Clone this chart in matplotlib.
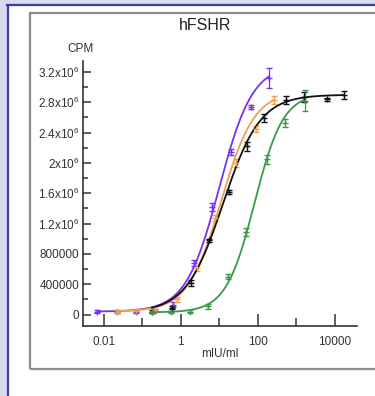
import matplotlib
matplotlib.use('Agg')
import matplotlib.pyplot as plt
import numpy as np
from matplotlib.patches import Rectangle
from matplotlib.lines import Line2D
from matplotlib.ticker import NullFormatter

plt.rcParams['font.family'] = ['Liberation Sans', 'DejaVu Sans']
plt.rcParams['mathtext.default'] = 'regular'

# mIU/ml, CPM (mean) and error
purple_x = [0.0069, 0.022, 0.068, 0.21, 0.63, 2.2, 6.6, 20, 66, 195]
purple_y = [40000, 35000, 40000, 50000, 130000, 680000, 1420000, 2150000, 2740000, 3120000]
purple_err = [20000, 20000, 15000, 20000, 30000, 40000, 50000, 40000, 30000, 130000]

orange_x = [0.022, 0.068, 0.21, 0.8, 2.6, 8, 27, 89, 265]
orange_y = [40000, 45000, 55000, 200000, 620000, 1280000, 2000000, 2450000, 2830000]
orange_err = [15000, 15000, 20000, 30000, 40000, 40000, 50000, 40000, 50000]

black_x = [0.18, 0.6, 1.8, 5.5, 17.8, 54, 145, 540, 1600, 6500, 17400]
black_y = [40000, 90000, 420000, 980000, 1620000, 2220000, 2590000, 2830000, 2870000, 2840000, 2900000]
black_err = [15000, 20000, 40000, 20000, 30000, 60000, 50000, 50000, 60000, 20000, 50000]

green_x = [0.178, 0.55, 1.74, 5.25, 17, 51, 170, 500, 1660]
green_y = [30000, 30000, 40000, 110000, 500000, 1090000, 2050000, 2530000, 2820000]
green_err = [10000, 15000, 20000, 30000, 30000, 50000, 60000, 50000, 140000]

# 4PL fit parameters: bottom, top, logEC50, hill
purple_fit = [40000, 3300000, 1.0, 1.0]
orange_fit = [40000, 2950000, 1.05, 1.0]
black_fit = [30000, 2900000, 1.1, 0.9]
green_fit = [30000, 2920000, 1.92, 1.17]

series = [
    (purple_x, purple_y, purple_err, purple_fit, '#7a30f0'),
    (orange_x, orange_y, orange_err, orange_fit, '#f0a050'),
    (black_x, black_y, black_err, black_fit, '#111111'),
    (green_x, green_y, green_err, green_fit, '#3a9a48'),
]

yticks = [0, 400000, 800000, 1200000, 1600000, 2000000, 2400000, 2800000, 3200000]
ylabels = ['0', '400000', '800000', '1.2x10$^{6}$', '1.6x10$^{6}$', '2x10$^{6}$',
           '2.4x10$^{6}$', '2.8x10$^{6}$', '3.2x10$^{6}$']
xticks = [0.01, 1, 100, 10000]
xlabels = ['0.01', '1', '100', '10000']

W, H = 375, 396
fig = plt.figure(figsize=(W / 100, H / 100), dpi=100)
fig.patch.set_facecolor('#d8d8f0')

# slide frame
fig.add_artist(Rectangle((8 / W, 0), 1, 1 - 6 / H, transform=fig.transFigure,
                         facecolor='white', edgecolor='none', zorder=-3))
fig.add_artist(Line2D([7 / W, 1], [1 - 5 / H] * 2, transform=fig.transFigure,
                      color='#3c3ca8', lw=1.6, zorder=-2))
fig.add_artist(Line2D([7.5 / W] * 2, [0, 1 - 5 / H], transform=fig.transFigure,
                      color='#3c3ca8', lw=1.6, zorder=-2))
fig.add_artist(Rectangle((30 / W, 1 - 369 / H), 1, (369 - 12.5) / H, transform=fig.transFigure,
                         fill=False, edgecolor='#8c8c8c', lw=1.6, zorder=-1))

ax = fig.add_axes([83 / W, 1 - 326 / H, (357 - 83) / W, (326 - 61) / H])
ax.patch.set_alpha(0)

for xs, ys, es, (b, t, ec, h), c in series:
    xx = np.logspace(np.log10(xs[0]), np.log10(xs[-1]), 300)
    ax.plot(xx, b + (t - b) / (1 + 10 ** ((ec - np.log10(xx)) * h)), color=c, lw=1.3)
    ax.errorbar(xs, ys, yerr=es, fmt='+', color=c, ms=5, mew=1.0,
                elinewidth=0.9, capsize=2.5, capthick=0.9)

ax.set_xscale('log')
ax.set_xlim(0.0029, 38000)
ax.set_ylim(-150000, 3345000)
ax.set_xticks(xticks)
ax.set_xticklabels(xlabels)
ax.set_xticks([0.1, 10, 1000], minor=True)
ax.xaxis.set_minor_formatter(NullFormatter())
ax.set_yticks(yticks)
ax.set_yticklabels(ylabels)
ax.set_yticks([200000 + 400000 * i for i in range(8)], minor=True)

for s in ['top', 'right']:
    ax.spines[s].set_visible(False)
for s in ['left', 'bottom']:
    ax.spines[s].set_color('#333333')
    ax.spines[s].set_linewidth(1.2)

ax.tick_params(which='both', direction='in', color='#333333', labelcolor='#333333', labelsize=8.5)
ax.tick_params(axis='x', which='major', length=9, width=1.1, pad=7)
ax.tick_params(axis='x', which='minor', length=6, width=1.1)
ax.tick_params(axis='y', which='major', length=6, width=1.1, pad=2.5)
ax.tick_params(axis='y', which='minor', length=3.5, width=1.1)

fig.text(205 / W, 1 - 26 / H, 'hFSHR', ha='center', va='center', fontsize=11.5, color='#222222')
fig.text(80 / W, 1 - 49 / H, 'CPM', ha='center', va='center', fontsize=8.5, color='#333333')
fig.text(220 / W, 1 - 354 / H, 'mIU/ml', ha='center', va='center', fontsize=8.5, color='#333333')

fig.savefig('out.png', dpi=100, facecolor=fig.get_facecolor())
